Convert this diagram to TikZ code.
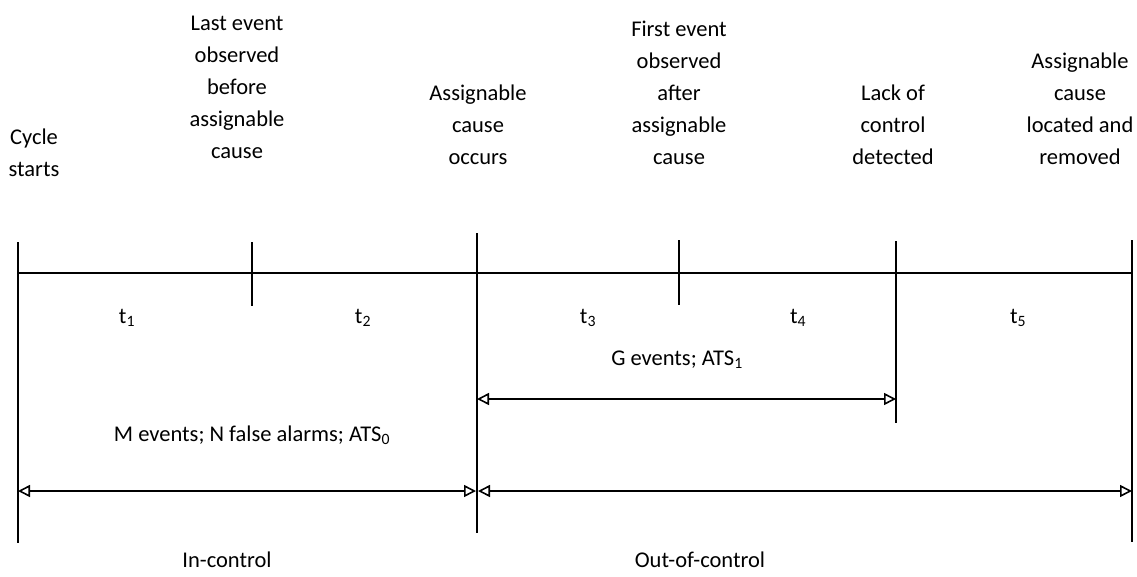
\documentclass[tikz,border=0pt]{standalone}
\usepackage{fontspec}
\setmainfont{Carlito}
\usetikzlibrary{arrows.meta}
\begin{document}
\begin{tikzpicture}[x=1pt,y=-1pt,
  lbl/.style={align=center,font=\fontsize{22.5}{32}\selectfont,inner sep=0pt},
  tl/.style={font=\fontsize{22.5}{26}\selectfont,inner sep=0pt},
  bar/.style={line width=2pt},
  axis/.style={line width=1.8pt},
  dim/.style={line width=1.8pt,{Triangle[open,length=12pt,width=12pt,line width=1.6pt]}-{Triangle[open,length=12pt,width=12pt,line width=1.6pt]}}]
\useasboundingbox (0,0) rectangle (1137,576);
% time points on the axis
\coordinate (A0) at (18,273);
\coordinate (A1) at (252,273);
\coordinate (A2) at (477,273);
\coordinate (A3) at (679,273);
\coordinate (A4) at (896,273);
\coordinate (A5) at (1132,273);
% bar ends
\coordinate (B0t) at (18,242);   \coordinate (B0b) at (18,543);
\coordinate (B1t) at (252,242);  \coordinate (B1b) at (252,306);
\coordinate (B2t) at (477,233);  \coordinate (B2b) at (477,533);
\coordinate (B3t) at (679,240);  \coordinate (B3b) at (679,305);
\coordinate (B4t) at (896,241);  \coordinate (B4b) at (896,423);
\coordinate (B5t) at (1132,240); \coordinate (B5b) at (1132,542);
% arrow ends
\coordinate (M0) at (18,491);  \coordinate (M1) at (476,491);
\coordinate (O0) at (478,491); \coordinate (O1) at (1132,491);
\coordinate (G0) at (477,399); \coordinate (G1) at (896,399);
% axis and bars
\draw[axis] (A0) -- (A5);
\foreach \i in {0,...,5} {\draw[bar] (B\i t) -- (B\i b);}
% dimension arrows
\draw[dim] (G0) -- (G1);
\draw[dim] (M0) -- (M1);
\draw[dim] (O0) -- (O1);
% top labels
\node[lbl] (l0) at (34,153) {Cycle\\starts};
\node[lbl] (l1) at (237,87) {Last event\\observed\\before\\assignable\\cause};
\node[lbl] (l2) at (478,125) {Assignable\\cause\\occurs};
\node[lbl] (l3) at (679,93) {First event\\observed\\after\\assignable\\cause};
\node[lbl] (l4) at (893,125) {Lack of\\control\\detected};
\node[lbl] (l5) at (1080,109) {Assignable\\cause\\located and\\removed};
% interval labels
\node[tl] (t1) at (127,318) {t\textsubscript{1}};
\node[tl] (t2) at (363,318) {t\textsubscript{2}};
\node[tl] (t3) at (588,318) {t\textsubscript{3}};
\node[tl] (t4) at (798,318) {t\textsubscript{4}};
\node[tl] (t5) at (1018,318) {t\textsubscript{5}};
\node[tl] (g) at (677,360) {G events; ATS\textsubscript{1}};
\node[tl] (m) at (252,435) {M events; N false alarms; ATS\textsubscript{0}};
\node[tl] (ic) at (227,560) {In-control};
\node[tl] (oc) at (700,560) {Out-of-control};
\end{tikzpicture}
\end{document}
